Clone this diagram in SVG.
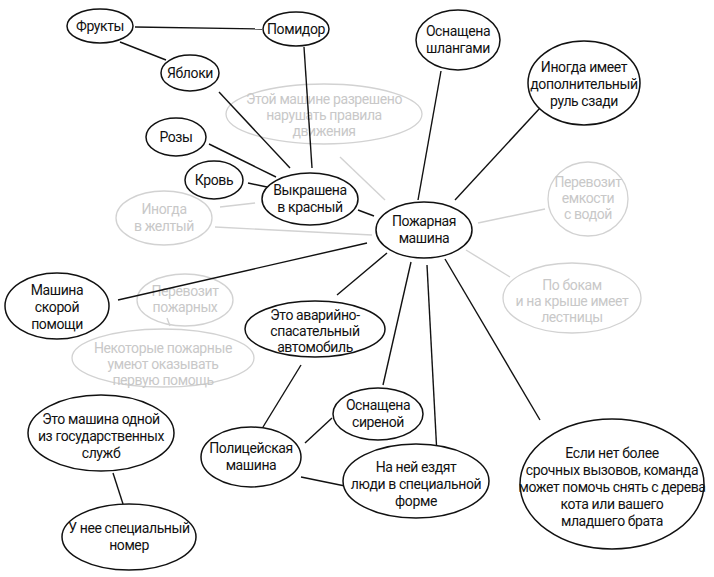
<svg xmlns="http://www.w3.org/2000/svg" width="714" height="577" viewBox="0 0 714 577">
<style>
.n{fill:#fff;stroke:#111;stroke-width:1.5}
.g{fill:none;stroke:#d2d2d2;stroke-width:1.3}
text{font-family:Roboto,"Liberation Sans",Arial,sans-serif;font-size:14px;letter-spacing:-0.4px;text-anchor:middle}
.t{fill:#111}
.tg{fill:#c8c8c8}
.e line{stroke:#111;stroke-width:1.4}
.e line.f{stroke:#d2d2d2}
</style>
<rect width="714" height="577" fill="#fff"/>
<g id="n5"><ellipse class="g" cx="324" cy="114" rx="98" ry="30"/><text class="tg" x="324" y="104">Этой машине разрешено</text><text class="tg" x="324" y="120">нарушать правила</text><text class="tg" x="324" y="136">движения</text></g>
<g id="n10"><ellipse class="g" cx="164" cy="218" rx="48" ry="27"/><text class="tg" x="164" y="214">Иногда</text><text class="tg" x="164" y="231">в желтый</text></g>
<g id="n11"><ellipse class="g" cx="588" cy="199" rx="40" ry="37"/><text class="tg" x="588" y="187">Перевозит</text><text class="tg" x="588" y="203">емкости</text><text class="tg" x="588" y="219">с водой</text></g>
<g id="n14"><ellipse class="g" cx="185" cy="300" rx="48" ry="26"/><text class="tg" x="185" y="296">Перевозит</text><text class="tg" x="185" y="312">пожарных</text></g>
<g id="n15"><ellipse class="g" cx="572" cy="298" rx="69" ry="35"/><text class="tg" x="572" y="290">По бокам</text><text class="tg" x="572" y="306">и на крыше имеет</text><text class="tg" x="572" y="322">лестницы</text></g>
<g id="n17"><ellipse class="g" cx="163" cy="358" rx="91" ry="29"/><text class="tg" x="163" y="353">Некоторые пожарные</text><text class="tg" x="163" y="369">умеют оказывать</text><text class="tg" x="163" y="385">первую помощь</text></g>
<g class="e" id="connectors">
<line class="f" x1="340" y1="157" x2="385" y2="200"/>
<line class="f" x1="220" y1="207" x2="255" y2="203"/>
<line class="f" x1="215" y1="227" x2="372" y2="235"/>
<line class="f" x1="167" y1="318" x2="170" y2="326"/>
<line class="f" x1="478" y1="223" x2="545" y2="209"/>
<line class="f" x1="466" y1="250" x2="510" y2="277"/>
<line x1="135" y1="27" x2="262" y2="29"/>
<line x1="120" y1="42" x2="166" y2="60"/>
<line x1="219" y1="92" x2="290" y2="168"/>
<line x1="304" y1="47" x2="312" y2="168"/>
<line x1="209" y1="144" x2="276" y2="177"/>
<line x1="248" y1="183" x2="267" y2="187"/>
<line x1="358" y1="210" x2="374" y2="216"/>
<line x1="441" y1="71" x2="418" y2="200"/>
<line x1="540" y1="108" x2="455" y2="200"/>
<line x1="118" y1="300" x2="367" y2="243"/>
<line x1="387" y1="253" x2="337" y2="295"/>
<line x1="301" y1="365" x2="263" y2="427"/>
<line x1="411" y1="262" x2="383" y2="385"/>
<line x1="427" y1="265" x2="437" y2="455"/>
<line x1="445" y1="259" x2="540" y2="420"/>
<line x1="332" y1="418" x2="305" y2="443"/>
<line x1="301" y1="477" x2="345" y2="486"/>
<line x1="113" y1="473" x2="123" y2="504"/>
</g>
<g id="n1"><ellipse class="n" cx="100" cy="26" rx="33" ry="17"/><text class="t" x="100" y="31">Фрукты</text></g>
<g id="n2"><ellipse class="n" cx="296" cy="29" rx="33" ry="17"/><text class="t" x="296" y="34">Помидор</text></g>
<g id="n3"><ellipse class="n" cx="190" cy="73" rx="29" ry="18"/><text class="t" x="190" y="78">Яблоки</text></g>
<g id="n4"><ellipse class="n" cx="458" cy="40" rx="42" ry="30"/><text class="t" x="458" y="36">Оснащена</text><text class="t" x="458" y="53">шлангами</text></g>
<g id="n6"><ellipse class="n" cx="584" cy="83" rx="56" ry="42"/><text class="t" x="584" y="72">Иногда имеет</text><text class="t" x="584" y="89">дополнительный</text><text class="t" x="584" y="106">руль сзади</text></g>
<g id="n7"><ellipse class="n" cx="176" cy="137" rx="30" ry="19"/><text class="t" x="176" y="142">Розы</text></g>
<g id="n8"><ellipse class="n" cx="214" cy="180" rx="29" ry="19"/><text class="t" x="214" y="185">Кровь</text></g>
<g id="n9"><ellipse class="n" cx="310" cy="199" rx="48" ry="26"/><text class="t" x="310" y="195">Выкрашена</text><text class="t" x="310" y="212">в красный</text></g>
<g id="n12"><ellipse class="n" cx="424" cy="230" rx="48" ry="28"/><text class="t" x="424" y="226">Пожарная</text><text class="t" x="424" y="243">машина</text></g>
<g id="n13"><ellipse class="n" cx="57" cy="306" rx="52" ry="33"/><text class="t" x="57" y="295">Машина</text><text class="t" x="57" y="312">скорой</text><text class="t" x="57" y="329">помощи</text></g>
<g id="n16"><ellipse class="n" cx="315" cy="329" rx="70" ry="28"/><text class="t" x="315" y="320">Это аварийно-</text><text class="t" x="315" y="336">спасательный</text><text class="t" x="315" y="352">автомобиль</text></g>
<g id="n18"><ellipse class="n" cx="101" cy="433" rx="73" ry="38"/><text class="t" x="101" y="424">Это машина одной</text><text class="t" x="101" y="441">из государственных</text><text class="t" x="101" y="458">служб</text></g>
<g id="n19"><ellipse class="n" cx="378" cy="414" rx="45" ry="26"/><text class="t" x="378" y="410">Оснащена</text><text class="t" x="378" y="427">сиреной</text></g>
<g id="n20"><ellipse class="n" cx="251" cy="457" rx="50" ry="30"/><text class="t" x="251" y="453">Полицейская</text><text class="t" x="251" y="470">машина</text></g>
<g id="n21"><ellipse class="n" cx="416" cy="481" rx="73" ry="37"/><text class="t" x="416" y="472">На ней ездят</text><text class="t" x="416" y="489">люди в специальной</text><text class="t" x="416" y="506">форме</text></g>
<g id="n22"><ellipse class="n" cx="612" cy="484" rx="92" ry="65"/><text class="t" x="612" y="458">Если нет более</text><text class="t" x="612" y="475">срочных вызовов, команда</text><text class="t" x="612" y="492">может помочь снять с дерева</text><text class="t" x="612" y="509">кота или вашего</text><text class="t" x="612" y="526">младшего брата</text></g>
<g id="n23"><ellipse class="n" cx="129" cy="537" rx="67" ry="33"/><text class="t" x="129" y="533">У нее специальный</text><text class="t" x="129" y="550">номер</text></g>
</svg>
